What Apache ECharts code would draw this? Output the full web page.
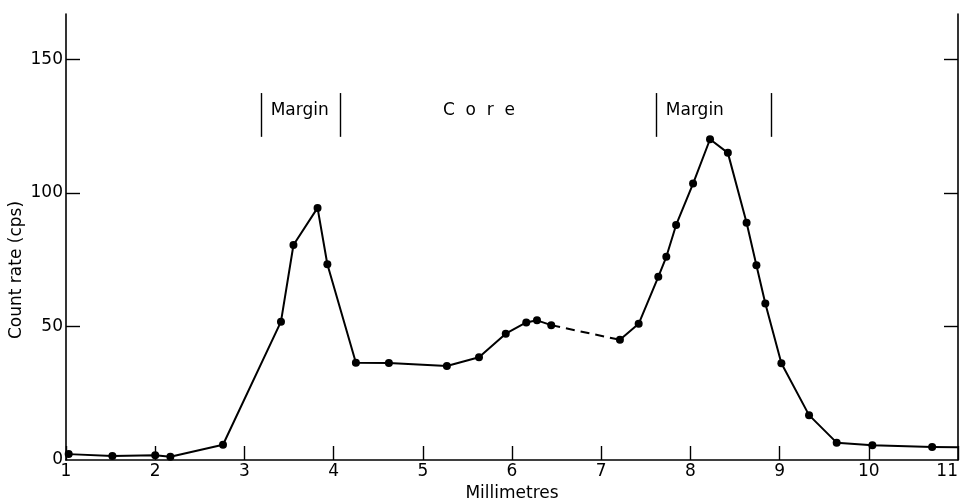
<!DOCTYPE html>
<html>
<head>
<meta charset="utf-8">
<script src="https://cdn.jsdelivr.net/npm/echarts@6/dist/echarts.min.js"></script>
<style>html,body{margin:0;padding:0;background:#fff}#c{width:965px;height:500px}</style>
</head>
<body>
<div id="c"></div>
<script>
// Data
const xSolid1 = [1.03, 1.52, 2.0, 2.17, 2.76, 3.41, 3.55, 3.82, 3.93, 4.25, 4.62, 5.27, 5.63, 5.93, 6.16, 6.28, 6.44];
const ySolid1 = [2.2, 1.5, 1.8, 1.2, 5.7, 51.8, 80.5, 94.4, 73.3, 36.4, 36.3, 35.2, 38.5, 47.3, 51.5, 52.3, 50.5];
const xSolid2 = [7.21, 7.42, 7.64, 7.73, 7.84, 8.03, 8.22, 8.42, 8.63, 8.74, 8.84, 9.02, 9.33, 9.64, 10.04, 10.71];
const ySolid2 = [45.0, 51.0, 68.6, 76.1, 88.0, 103.5, 120.1, 115.0, 88.8, 72.9, 58.6, 36.2, 16.8, 6.5, 5.5, 4.9];
const xEnd = [10.71, 11.0];
const yEnd = [4.9, 4.8];
const xDashed = [6.44, 7.21];
const yDashed = [50.5, 45.0];
const xTickLabels = [1, 2, 3, 4, 5, 6, 7, 8, 9, 10, 11];
const yTickValues = [0, 50, 100, 150];
const regionLabels = ['Margin', 'C  o  r  e', 'Margin'];
const regionLabelPos = [[3.62, 131], [5.63, 131], [8.05, 131]];
const bracketX = [3.19, 4.07, 7.62, 8.91];
const bracketY = [121, 137.4];

const zip = (a, b) => a.map((v, i) => [v, b[i]]);
const FONT = 'DejaVu Sans';

const chart = echarts.init(document.getElementById('c'), null, {renderer: 'canvas'});
chart.setOption({
  animation: false,
  backgroundColor: '#fff',
  grid: {left: 66, right: 7, top: 14, bottom: 40, containLabel: false, outerBoundsMode: 'none'},
  xAxis: {
    type: 'value', min: 1, max: 11, interval: 1,
    name: 'Millimetres', nameLocation: 'middle', nameGap: 25,
    nameTextStyle: {fontFamily: FONT, fontSize: 17, color: '#000'},
    axisLine: {lineStyle: {color: '#000', width: 1.6}},
    axisTick: {inside: true, length: 14, lineStyle: {color: '#000', width: 1.4}},
    axisLabel: {fontFamily: FONT, fontSize: 17, color: '#000', margin: 3,
      customValues: xTickLabels, alignMaxLabel: 'right'},
    splitLine: {show: false}
  },
  yAxis: [{
    type: 'value', min: 0, max: 167, position: 'left',
    axisLine: {show: true, lineStyle: {color: '#000', width: 1.6}},
    axisTick: {show: true, inside: true, length: 14, lineStyle: {color: '#000', width: 1.4},
      customValues: [50, 100, 150]},
    axisLabel: {fontFamily: FONT, fontSize: 17, color: '#000', margin: 3,
      customValues: yTickValues},
    splitLine: {show: false}
  }, {
    type: 'value', min: 0, max: 167, position: 'right',
    axisLine: {show: true, lineStyle: {color: '#000', width: 1.6}},
    axisTick: {show: true, inside: true, length: 14, lineStyle: {color: '#000', width: 1.4},
      customValues: [50, 100, 150]},
    axisLabel: {show: false},
    splitLine: {show: false}
  }],
  graphic: [{
    type: 'text', x: 17, y: 270, rotation: Math.PI / 2,
    style: {text: 'Count rate (cps)', font: '17px "DejaVu Sans"', fill: '#000',
      textAlign: 'center', textVerticalAlign: 'middle'}
  }],
  series: [
    {type: 'line', data: zip(xSolid1, ySolid1), symbol: 'circle', symbolSize: 8,
      itemStyle: {color: '#000'}, lineStyle: {color: '#000', width: 2}},
    {type: 'line', data: zip(xSolid2, ySolid2), symbol: 'circle', symbolSize: 8,
      itemStyle: {color: '#000'}, lineStyle: {color: '#000', width: 2}},
    {type: 'line', data: zip(xEnd, yEnd), symbol: 'none',
      lineStyle: {color: '#000', width: 2}},
    {type: 'line', data: zip(xDashed, yDashed), symbol: 'none',
      lineStyle: {color: '#000', width: 2, type: [9, 6]}},
    {type: 'line', data: [], symbol: 'none',
      markLine: {symbol: 'none', silent: true, label: {show: false},
        lineStyle: {color: '#000', width: 1.4, type: 'solid'},
        data: bracketX.map(x => [{coord: [x, bracketY[0]]}, {coord: [x, bracketY[1]]}])}},
    {type: 'scatter', symbolSize: 0, silent: true,
      itemStyle: {opacity: 1, color: '#000'},
      data: regionLabelPos.map((p, i) => ({value: p, name: regionLabels[i]})),
      label: {show: true, position: 'inside', formatter: p => p.name,
        fontFamily: FONT, fontSize: 17, color: '#000'}}
  ]
});
</script>
</body>
</html>
